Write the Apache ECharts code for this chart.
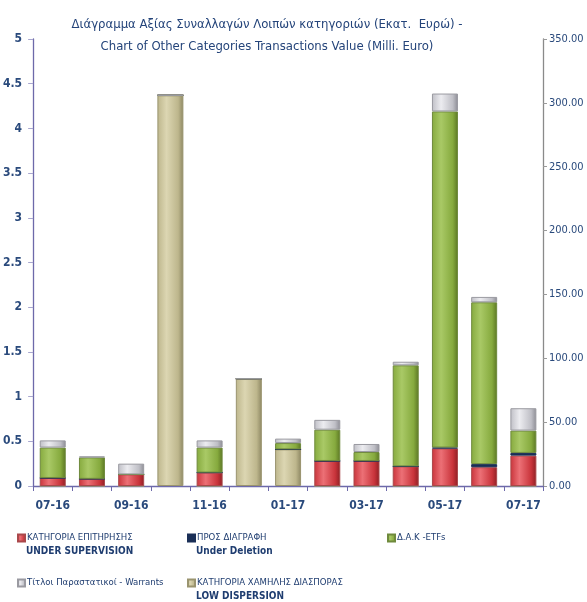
<!DOCTYPE html>
<html lang="el">
<head>
<meta charset="UTF-8">
<title>Αξία Συναλλαγών Λοιπών κατηγοριών</title>
<style>
  html, body { margin: 0; padding: 0; background: #fff; }
  #chart1 { width: 587px; height: 602px; }
</style>
</head>
<body>
<div id="chart1"></div>
<script src="https://cdn.jsdelivr.net/npm/echarts@6/dist/echarts.min.js"></script>
<script type="text/javascript">
// months
var months = ['07-16', '08-16', '09-16', '10-16', '11-16', '12-16', '01-17',
              '02-17', '03-17', '04-17', '05-17', '06-17', '07-17'];

// values (0 - 5)
var lowDispersion = [0, 0, 0, 4.37, 0, 1.20, 0.41, 0, 0, 0, 0, 0, 0];
var underSupervision = [0.09, 0.08, 0.13, 0, 0.15, 0, 0, 0.28, 0.28, 0.22, 0.42, 0.21, 0.34];
var underDeletion = [0, 0, 0, 0, 0, 0, 0, 0, 0, 0, 0.01, 0.035, 0.03];
var etfs = [0.34, 0.24, 0, 0, 0.28, 0, 0.07, 0.35, 0.10, 1.13, 3.76, 1.81, 0.25];
var warrants = [0.08, 0.01, 0.12, 0, 0.08, 0, 0.05, 0.11, 0.09, 0.04, 0.20, 0.06, 0.25];

// legend names: first line, second line
var nameSupervision = ['ΚΑΤΗΓΟΡΙΑ ΕΠΙΤΗΡΗΣΗΣ', 'UNDER SUPERVISION'];
var nameDeletion = ['ΠΡΟΣ ΔΙΑΓΡΑΦΗ', 'Under Deletion'];
var nameEtf = ['Δ.Α.Κ -ETFs', ''];
var nameWarrants = ['Τίτλοι Παραστατικοί - Warrants', ''];
var nameLow = ['ΚΑΤΗΓΟΡΙΑ ΧΑΜΗΛΗΣ ΔΙΑΣΠΟΡΑΣ', 'LOW DISPERSION'];

var leftTicks = [0, 5, 0.5];
var rightTicks = [0, 350, 50];

var FONT = '"DejaVu Sans Condensed", "Liberation Sans", sans-serif';
var BLUE = '#2a4a7c';

// cylinder-like shading
function tube(dark, light, darker) {
    return new echarts.graphic.LinearGradient(0, 0, 1, 0, [
        {offset: 0, color: dark},
        {offset: 0.35, color: light},
        {offset: 0.8, color: dark},
        {offset: 1, color: darker}
    ]);
}

function bar(name, data, color, border) {
    return {
        name: name,
        type: 'bar',
        stack: 'total',
        barWidth: 26,
        data: data,
        itemStyle: {
            color: color,
            borderColor: border,
            borderWidth: 1
        }
    };
}

var legendSpots = [
    {n: nameSupervision, left: 17, top: 533},
    {n: nameDeletion, left: 187, top: 533},
    {n: nameEtf, left: 387, top: 533},
    {n: nameWarrants, left: 17, top: 578},
    {n: nameLow, left: 187, top: 578}
];

var legends = [];
var secondLines = [];
legendSpots.forEach(function (s) {
    legends.push({
        data: [s.n[0]],
        left: s.left,
        top: s.top,
        padding: 0,
        icon: 'rect',
        itemWidth: 7,
        itemHeight: 7,
        itemGap: 2,
        selectedMode: false,
        textStyle: {fontFamily: FONT, fontSize: 9.5, color: '#1f3d70', padding: [0, 0, 0, -3]}
    });
    if (s.n[1]) {
        secondLines.push({
            type: 'text',
            left: s.left + 9,
            top: s.top + 13,
            style: {text: s.n[1], font: 'bold 10px ' + FONT, fill: '#1f3d70'}
        });
    }
});

var option = {
    animation: false,
    title: {
        text: 'Διάγραμμα Αξίας Συναλλαγών Λοιπών κατηγοριών (Εκατ.  Ευρώ) -\nChart of Other Categories Transactions Value (Milli. Euro)',
        left: 262,
        textAlign: 'center',
        top: 9,
        textStyle: {fontFamily: FONT, fontSize: 13, fontWeight: 'normal', color: '#24447a', lineHeight: 22}
    },
    legend: legends,
    graphic: secondLines,
    grid: {left: 31, right: 44, top: 39, bottom: 116},
    xAxis: {
        type: 'category',
        data: months,
        axisLine: {lineStyle: {color: '#6d69aa', width: 1.3}},
        axisTick: {show: true, length: 5, interval: 0, lineStyle: {color: '#6d69aa'}},
        axisLabel: {interval: 1, margin: 14, fontFamily: FONT, fontSize: 12, fontWeight: 'bold', color: BLUE}
    },
    yAxis: [
        {
            type: 'value',
            min: leftTicks[0], max: leftTicks[1], interval: leftTicks[2],
            axisLine: {show: true, lineStyle: {color: '#6d69aa', width: 1.3}},
            axisTick: {show: true, length: 5, lineStyle: {color: '#a9a7cf'}},
            splitLine: {show: false},
            axisLabel: {margin: 11, fontFamily: FONT, fontSize: 12, fontWeight: 'bold', color: BLUE}
        },
        {
            type: 'value',
            position: 'right',
            min: rightTicks[0], max: rightTicks[1], interval: rightTicks[2],
            axisLine: {show: true, lineStyle: {color: '#8a8a8a', width: 1.3}},
            axisTick: {show: true, length: 4, lineStyle: {color: '#9a9a9a'}},
            splitLine: {show: false},
            axisLabel: {
                margin: 6, fontFamily: FONT, fontSize: 11, color: BLUE,
                formatter: function (v) { return v.toFixed(2); }
            }
        }
    ],
    series: [
        bar(nameLow[0], lowDispersion, tube('#bdb68c', '#dcd6b2', '#8d8763'), '#9a946f'),
        bar(nameSupervision[0], underSupervision, tube('#c9343b', '#ec7076', '#8e1f24'), '#a9484b'),
        bar(nameDeletion[0], underDeletion, '#1a2f57', '#1a2f57'),
        bar(nameEtf[0], etfs, tube('#86aa3e', '#a9c966', '#5b7623'), '#6f8a3d'),
        bar(nameWarrants[0], warrants, tube('#bfbfc6', '#ececf0', '#8c8c94'), '#9a9aa1')
    ]
};

var myChart = echarts.init(document.getElementById('chart1'));
myChart.setOption(option);
</script>
</body>
</html>
